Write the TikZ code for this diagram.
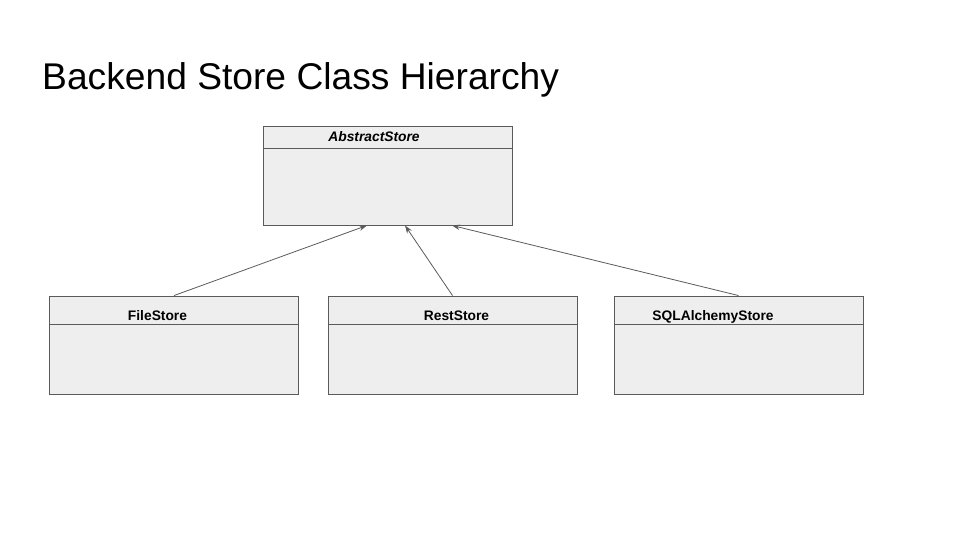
\documentclass[tikz,border=0pt]{standalone}
\usepackage{fontspec}
\setmainfont{Liberation Sans}
\usetikzlibrary{positioning,calc,arrows.meta}
\definecolor{Edge}{HTML}{5A5A5A}
\definecolor{Panel}{HTML}{EEEEEE}

\begin{document}
\begin{tikzpicture}[x=1pt,y=1pt,
    classbox/.style={draw=Edge,fill=Panel,line width=0.9pt,minimum width=249pt,minimum height=98pt,inner sep=0pt},
    classname/.style={anchor=base,font=\fontsize{13.8}{16}\selectfont\bfseries},
    inherit/.style={draw=Edge,line width=0.8pt,-{Stealth[length=8pt,width=5.5pt]}}]
  \useasboundingbox (0,0) rectangle (960,-540);
  \node[anchor=base west,inner sep=0pt,font=\fontsize{37.2}{44}\selectfont] (title) at (42,-90) {Backend Store Class Hierarchy};

  % base class
  \node[classbox,minimum height=99pt] (abstract) at (387.5,-175.5) {};
  \draw[Edge,line width=0.9pt] ([yshift=-23pt]abstract.north west) -- ([yshift=-23pt]abstract.north east);
  \node[classname,font=\fontsize{13.8}{16}\selectfont\bfseries\itshape] (abstractname) at (374,-142) {AbstractStore};

  % subclasses
  \foreach \name/\label/\cx/\tx/\tgt in {
    file/FileStore/174/157.5/-20.5,
    rest/RestStore/452.5/456.5/17.5,
    sqla/SQLAlchemyStore/738.5/713/64.5}
  {
    \node[classbox] (\name) at (\cx,-345) {};
    \draw[Edge,line width=0.9pt] ([yshift=-29pt]\name.north west) -- ([yshift=-29pt]\name.north east);
    \node[classname] (\name name) at (\tx,-320) {\label};
    \coordinate (\name tip) at ([xshift=\tgt pt]abstract.south);
    \draw[inherit] (\name.north) -- (\name tip);
  }
\end{tikzpicture}
\end{document}
